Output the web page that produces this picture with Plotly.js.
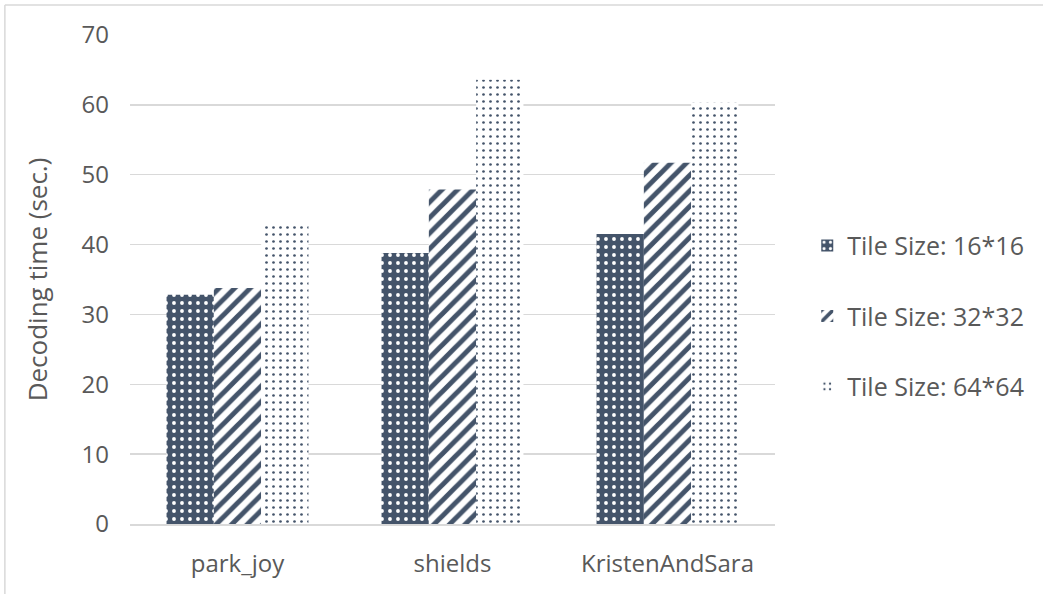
<!DOCTYPE html>
<html>
<head>
<meta charset="utf-8">
<script src="https://cdn.plot.ly/plotly-3.0.1.min.js"></script>
<style>html,body{margin:0;padding:0;background:#fff;}#chart{width:1043px;height:594px;}</style>
</head>
<body>
<div id="chart"></div>
<script>
const categories = ["park_joy", "shields", "KristenAndSara"];
const seriesNames = ["Tile Size: 16*16", "Tile Size: 32*32", "Tile Size: 64*64"];
const tile16 = [32.8, 38.8, 41.5];
const tile32 = [33.8, 47.9, 51.7];
const tile64 = [42.9, 63.6, 60.3];
const yTicks = [0, 10, 20, 30, 40, 50, 60, 70];

const dark = "#44546A";
const textColor = "#595959";
const fam = "Open Sans, Liberation Sans, sans-serif";
const tickFont = {family: fam, size: 24, color: textColor};
const legendFont = {family: fam, size: 25, color: textColor};
const titleFont = {family: fam, size: 26, color: textColor};

const traces = [
  {type: "bar", name: seriesNames[0], x: categories, y: tile16, legendgroup: "a",
   marker: {color: dark, line: {width: 0}, pattern: {shape: ".", bgcolor: dark, fgcolor: "#ffffff", size: 8, solidity: 0.18, fillmode: "replace"}}},
  {type: "bar", name: seriesNames[1], x: categories, y: tile32, legendgroup: "b",
   marker: {color: dark, line: {width: 0}, pattern: {shape: "/", bgcolor: "#ffffff", fgcolor: dark, size: 11, solidity: 0.45, fillmode: "replace"}}},
  {type: "bar", name: seriesNames[2], x: categories, y: tile64, legendgroup: "c",
   marker: {color: dark, line: {width: 0}, pattern: {shape: ".", bgcolor: "#ffffff", fgcolor: dark, size: 7, solidity: 0.12, fillmode: "replace"}}}
];

const layout = {
  width: 1043, height: 594,
  margin: {l: 130, r: 268, t: 35, b: 70},
  paper_bgcolor: "#ffffff", plot_bgcolor: "#ffffff",
  font: tickFont,
  barmode: "group", bargap: 0.34, bargroupgap: 0,
  showlegend: true,
  legend: {x: 1.05, xanchor: "left", y: 0.425, yanchor: "middle", font: legendFont,
           tracegroupgap: 35, traceorder: "grouped", itemwidth: 30},
  xaxis: {type: "category", showgrid: false, showline: true, linecolor: "#d9d9d9", linewidth: 1.5,
          ticks: "", tickfont: tickFont, ticklabelstandoff: 18, fixedrange: true},
  yaxis: {range: [0, 70], tickvals: yTicks, ticktext: yTicks.map(String), showgrid: true,
          gridcolor: "#d9d9d9", gridwidth: 1.5, zeroline: false, showline: false, ticks: "",
          tickfont: tickFont, ticklabelstandoff: 20,
          title: {text: "Decoding time (sec.)", font: titleFont, standoff: 26}},
  shapes: [
    {type: "line", xref: "paper", yref: "paper", x0: -0.194, x1: 1.42, y0: 1.0613, y1: 1.0613, line: {color: "#d9d9d9", width: 1.5}},
    {type: "line", xref: "paper", yref: "paper", x0: -0.194, x1: -0.194, y0: 1.0613, y1: -0.2, line: {color: "#d9d9d9", width: 1.5}}
  ]
};

Plotly.newPlot("chart", traces, layout, {displayModeBar: false, staticPlot: true});
</script>
</body>
</html>
